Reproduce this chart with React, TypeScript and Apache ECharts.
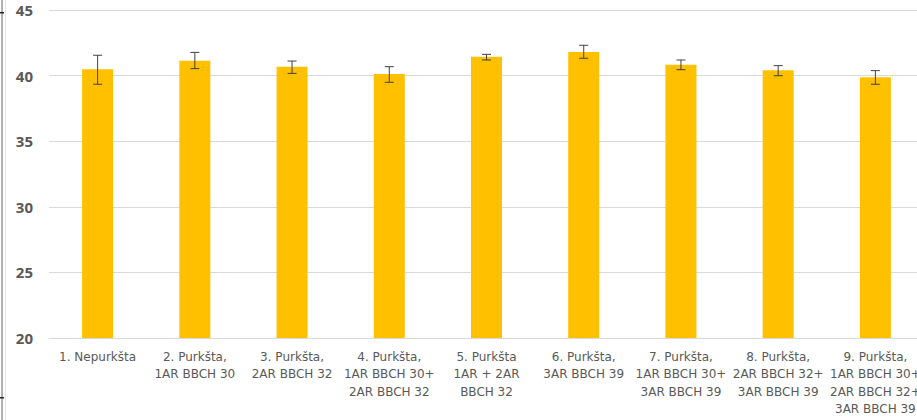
import React, { useEffect, useRef } from "react";
import * as echarts from "echarts";

const categories = [
  "1. Nepurkšta",
  "2. Purkšta,\n1AR BBCH 30",
  "3. Purkšta,\n2AR BBCH 32",
  "4. Purkšta,\n1AR BBCH 30+\n2AR BBCH 32",
  "5. Purkšta\n1AR + 2AR\nBBCH 32",
  "6. Purkšta,\n3AR BBCH 39",
  "7. Purkšta,\n1AR BBCH 30+\n3AR BBCH 39",
  "8. Purkšta,\n2AR BBCH 32+\n3AR BBCH 39",
  "9. Purkšta,\n1AR BBCH 30+\n2AR BBCH 32+\n3AR BBCH 39",
];
const values = [40.48, 41.14, 40.68, 40.12, 41.44, 41.8, 40.83, 40.4, 39.87];
const errLow = [39.34, 40.53, 40.17, 39.49, 41.19, 41.32, 40.45, 39.99, 39.34];
const errHigh = [41.55, 41.77, 41.11, 40.68, 41.62, 42.31, 41.19, 40.76, 40.38];
const yTicks = { min: 20, max: 45, interval: 5 };

export default function App() {
  const ref = useRef<HTMLDivElement>(null);
  useEffect(() => {
    if (!ref.current) return;
    const chart = echarts.init(ref.current, undefined, { renderer: "svg" });
    const errData = categories.map((_, i) => [i, errLow[i], errHigh[i]]);
    chart.setOption({
      animation: false,
      backgroundColor: "#ffffff",
      grid: { left: 49, right: 6, top: 10, bottom: 82, containLabel: false },
      xAxis: {
        type: "category",
        data: categories,
        axisLine: { show: true, lineStyle: { color: "#d9d9d9", width: 1 } },
        axisTick: { show: false },
        axisLabel: {
          interval: 0,
          color: "#595959",
          fontFamily: "DejaVu Sans",
          fontSize: 12,
          lineHeight: 17.5,
          margin: 10,
        },
      },
      yAxis: {
        type: "value",
        min: yTicks.min,
        max: yTicks.max,
        interval: yTicks.interval,
        axisLine: { show: false },
        axisTick: { show: false },
        splitLine: { lineStyle: { color: "#d9d9d9", width: 1 } },
        axisLabel: {
          color: "#595959",
          fontFamily: "Open Sans",
          fontWeight: "bold",
          fontSize: 15,
          margin: 16,
        },
      },
      series: [
        {
          type: "bar",
          data: values,
          barWidth: 31,
          itemStyle: { color: "#ffc000" },
        },
        {
          type: "custom",
          data: errData,
          z: 10,
          renderItem: (params: any, api: any) => {
            const x = api.value(0);
            const lo = api.coord([x, api.value(1)]);
            const hi = api.coord([x, api.value(2)]);
            const cap = 4.5;
            const style = { stroke: "#404040", lineWidth: 1 };
            return {
              type: "group",
              children: [
                { type: "line", shape: { x1: hi[0], y1: hi[1], x2: lo[0], y2: lo[1] }, style },
                { type: "line", shape: { x1: hi[0] - cap, y1: hi[1], x2: hi[0] + cap, y2: hi[1] }, style },
                { type: "line", shape: { x1: lo[0] - cap, y1: lo[1], x2: lo[0] + cap, y2: lo[1] }, style },
              ],
            };
          },
        },
      ],
      graphic: [
        { type: "rect", shape: { x: 1, y: 0, width: 2, height: 420 }, style: { fill: "#b0b0b0" } },
        { type: "rect", shape: { x: 5, y: 0, width: 1, height: 420 }, style: { fill: "#e6e6e6" } },
        { type: "rect", shape: { x: 0, y: 12, width: 4, height: 1.5 }, style: { fill: "#222222" } },
        { type: "rect", shape: { x: 0, y: 397, width: 4, height: 1.5 }, style: { fill: "#222222" } },
      ],
    });
    return () => chart.dispose();
  }, []);
  return (
    <div style={{ position: "fixed", left: 0, top: 0, width: 917, height: 420, overflow: "hidden", background: "#fff" }}>
      <div ref={ref} style={{ width: 930, height: 420 }} />
    </div>
  );
}
